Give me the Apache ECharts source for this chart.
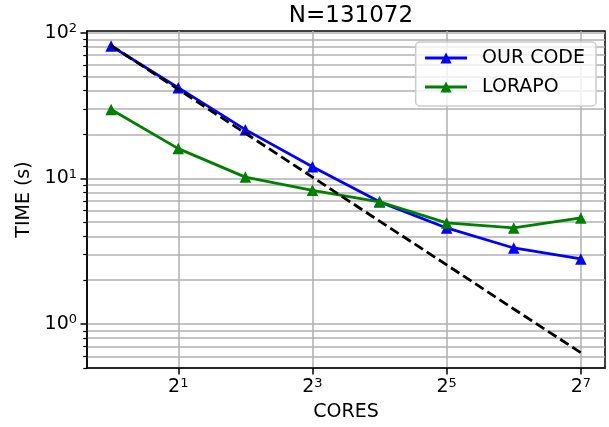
<!DOCTYPE html>
<html>
<head>
<meta charset="utf-8">
<script src="https://cdn.jsdelivr.net/npm/echarts@6/dist/echarts.min.js"></script>
<style>
  html, body { margin: 0; padding: 0; background: #fff; }
  #chart { width: 609px; height: 427px; }
</style>
</head>
<body>
<div id="chart"></div>
<script>
// cores (x) and measured times (s)
var cores = [1, 2, 4, 8, 16, 32, 64, 128];
var ourCode = [80.9, 41.9, 21.6, 12.0, 6.9, 4.57, 3.33, 2.8];
var lorapo = [29.7, 16.0, 10.2, 8.28, 6.9, 4.95, 4.57, 5.35];
// ideal scaling reference (dashed)
var ideal = [81.5, 40.8, 20.4, 10.2, 5.09, 2.55, 1.27, 0.637];

var xTicks = [2, 8, 32, 128];
var yMajor = [1, 10, 100];
var yMinor = [0.5, 0.6, 0.7, 0.8, 0.9, 2, 3, 4, 5, 6, 7, 8, 9, 20, 30, 40, 50, 60, 70, 80, 90];

function pairs(ys) {
  return cores.map(function (c, i) { return [c, ys[i]]; });
}

var font = 'DejaVu Sans';
var gridColor = '#b0b0b0';

// 2^n / 10^n style labels
function supLabel(base) {
  return function (v) {
    var e = Math.round(Math.log(v) / Math.log(base));
    return '{b|' + base + '}{s|' + e + '}';
  };
}
var supRich = {
  b: { fontFamily: font, fontSize: 19, color: '#000' },
  s: { fontFamily: font, fontSize: 13, color: '#000', padding: [0, 0, 8, 0] }
};

var chart = echarts.init(document.getElementById('chart'));
chart.setOption({
  animation: false,
  title: {
    text: 'N=131072',
    left: 346, top: 0, textAlign: 'center',
    textStyle: { fontFamily: font, fontSize: 23, fontWeight: 'normal', color: '#000' }
  },
  grid: {
    left: 87, right: 4, top: 31, bottom: 59,
    show: true, borderColor: '#000', borderWidth: 1.5, backgroundColor: 'transparent'
  },
  legend: {
    right: 13, top: 42, orient: 'vertical',
    itemWidth: 42, itemHeight: 14, itemGap: 9,
    padding: [6, 11, 9, 8],
    backgroundColor: 'rgba(255,255,255,0.8)',
    borderColor: '#cccccc', borderWidth: 1.5, borderRadius: 4,
    lineStyle: { width: 2.8 },
    textStyle: { fontFamily: font, fontSize: 19, lineHeight: 20, color: '#000', padding: [0, 0, 0, 10] },
    data: ['OUR CODE', 'LORAPO']
  },
  xAxis: {
    type: 'log', logBase: 2,
    min: Math.pow(2, -0.36), max: Math.pow(2, 7.36),
    name: 'CORES', nameLocation: 'middle', nameGap: 35,
    nameTextStyle: { fontFamily: font, fontSize: 19, color: '#000' },
    axisLine: { show: true, lineStyle: { color: '#000', width: 1.5 } },
    axisTick: { show: true, length: 6.5, lineStyle: { color: '#000', width: 1.5 }, customValues: xTicks },
    axisLabel: { margin: 9, customValues: xTicks, formatter: supLabel(2), rich: supRich },
    splitLine: { show: true, lineStyle: { color: gridColor, width: 1.5 } },
    minorTick: { show: false }
  },
  yAxis: [{
    type: 'log', logBase: 10,
    min: 0.5, max: 102.6,
    name: 'TIME (s)', nameLocation: 'middle', nameGap: 52,
    nameTextStyle: { fontFamily: font, fontSize: 19, color: '#000' },
    axisLine: { show: true, lineStyle: { color: '#000', width: 1.5 } },
    axisTick: { show: true, length: 6.5, lineStyle: { color: '#000', width: 1.5 }, customValues: yMajor },
    axisLabel: { margin: 10, customValues: yMajor, formatter: supLabel(10), rich: supRich },
    splitLine: { show: true, lineStyle: { color: gridColor, width: 1.5 } }
  }, {
    type: 'log', logBase: 10,
    min: 0.5, max: 102.6,
    position: 'left',
    axisLine: { show: false },
    axisTick: { show: true, length: 3.7, lineStyle: { color: '#000', width: 1.2 }, customValues: yMinor },
    axisLabel: { show: false },
    splitLine: { show: true, lineStyle: { color: gridColor, width: 1.5 } }
  }],
  series: [
    {
      name: 'OUR CODE', type: 'line', data: pairs(ourCode),
      symbol: 'triangle', symbolSize: 11.5, z: 3,
      itemStyle: { color: '#0000ff' },
      lineStyle: { color: '#0000ff', width: 2.8 }
    },
    {
      name: 'LORAPO', type: 'line', data: pairs(lorapo),
      symbol: 'triangle', symbolSize: 11.5, z: 4,
      itemStyle: { color: '#008000' },
      lineStyle: { color: '#008000', width: 2.8 }
    },
    {
      name: 'ideal', type: 'line', data: pairs(ideal),
      symbol: 'none', z: 5,
      lineStyle: { color: '#000', width: 2.8, type: [10, 4.5] }
    }
  ]
});
</script>
</body>
</html>
